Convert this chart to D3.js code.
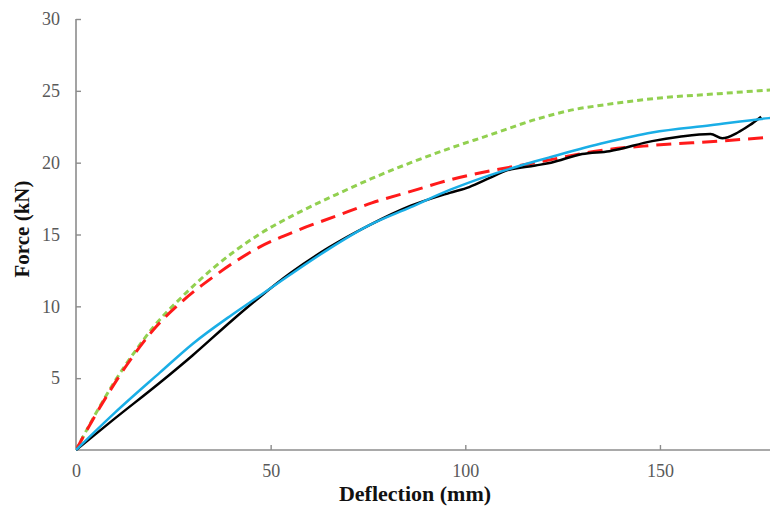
<!DOCTYPE html>
<html lang="en">
<head>
    <meta charset="UTF-8">
    <title>Force vs Deflection</title>
    <script src="https://d3js.org/d3.v7.min.js"></script>
    <style>
        body {
            margin: 0;
            background: #fff;
            font-family: "Liberation Serif", "Times New Roman", serif;
        }
        .tick text {
            font-size: 18px;
            fill: #595959;
        }
        .axis-title {
            font-weight: bold;
            fill: #111;
        }
    </style>
</head>
<body>
    <div id="chart"></div>

    <script>
        // deflection (mm) / force (kN) pairs
        const greenX = [0, 5, 10, 15, 20, 27, 35, 47, 57, 67, 76, 86, 96, 106, 118, 128, 135, 150, 165, 180];
        const greenY = [0, 2.5, 4.8, 6.8, 8.6, 10.6, 12.6, 15.0, 16.5, 17.8, 18.9, 20.0, 21.0, 21.9, 23.0, 23.7, 24.0, 24.5, 24.8, 25.1];

        const redX = [0, 6, 13, 20, 27.5, 35, 47, 57, 67, 76, 86, 96, 104, 118, 136, 148, 165, 180];
        const redY = [0, 2.9, 5.9, 8.4, 10.4, 12.0, 14.1, 15.3, 16.3, 17.2, 18.0, 18.8, 19.3, 20.0, 20.9, 21.2, 21.5, 21.8];

        const blueX = [0, 10, 21.6, 30, 40, 47, 55, 65, 75, 86, 96, 106, 118, 122, 136, 148, 163, 178, 180];
        const blueY = [0, 2.6, 5.4, 7.4, 9.4, 10.7, 12.2, 14.0, 15.6, 16.9, 18.1, 19.1, 20.1, 20.4, 21.4, 22.1, 22.6, 23.1, 23.15];

        const blackX = [0, 10, 21.6, 30, 40, 47, 55, 65, 75, 86, 96, 101, 106, 110, 118, 122, 130, 137, 148, 155, 163, 166, 170, 173, 176];
        const blackY = [0, 2.2, 4.7, 6.6, 9.0, 10.6, 12.3, 14.1, 15.6, 17.0, 17.9, 18.3, 18.9, 19.4, 19.8, 20.0, 20.6, 20.8, 21.5, 21.8, 22.0, 21.7, 22.1, 22.6, 23.2];

        const xTicks = [0, 50, 100, 150];
        const yTicks = [5, 10, 15, 20, 25, 30];

        const width = 770;
        const height = 514;
        const margin = { left: 76, top: 19, bottom: 64 };

        const svg = d3.select("#chart")
            .append("svg")
            .attr("width", width)
            .attr("height", height);

        const x = d3.scaleLinear()
            .domain([0, 180])
            .range([margin.left, margin.left + 180 * 3.893]);

        const y = d3.scaleLinear()
            .domain([0, 30])
            .range([height - margin.bottom, margin.top]);

        // x axis, ticks pointing up into the plot
        const xAxis = svg.append("g")
            .attr("transform", `translate(0, ${y(0)})`)
            .call(d3.axisBottom(x).tickValues(xTicks).tickSizeInner(-5).tickSizeOuter(0).tickPadding(14));

        // y axis, ticks pointing right
        const yAxis = svg.append("g")
            .attr("transform", `translate(${x(0)}, 0)`)
            .call(d3.axisLeft(y).tickValues(yTicks).tickSizeInner(-5).tickSizeOuter(0).tickPadding(16));

        [xAxis, yAxis].forEach(a => {
            a.attr("font-family", null).attr("font-size", null);
            a.select(".domain").attr("stroke", "#8c8c8c").attr("stroke-width", 1.6);
            a.selectAll(".tick line").attr("stroke", "#8c8c8c").attr("stroke-width", 1.4);
        });
        xAxis.select(".domain").attr("d", `M${x(0)},0H${width}`);
        yAxis.select(".domain").attr("d", `M0,${y(0)}V${y(30)}`);

        const line = d3.line()
            .x(d => x(d[0]))
            .y(d => y(d[1]))
            .curve(d3.curveMonotoneX);

        const series = [
            { xs: greenX, ys: greenY, color: "#92d050", width: 3, dash: "6,4" },
            { xs: redX, ys: redY, color: "#ff1a1a", width: 3, dash: "15,8" },
            { xs: blackX, ys: blackY, color: "#000000", width: 2.5, dash: null },
            { xs: blueX, ys: blueY, color: "#1aaee6", width: 2.5, dash: null }
        ];

        svg.append("defs").append("clipPath")
            .attr("id", "plot-clip")
            .append("rect")
            .attr("x", x(0))
            .attr("y", 0)
            .attr("width", width - x(0))
            .attr("height", y(0) + 2);

        svg.append("g")
            .attr("clip-path", "url(#plot-clip)")
            .selectAll("path")
            .data(series)
            .enter()
            .append("path")
            .attr("d", s => line(s.xs.map((v, i) => [v, s.ys[i]])))
            .attr("fill", "none")
            .attr("stroke", s => s.color)
            .attr("stroke-width", s => s.width)
            .attr("stroke-dasharray", s => s.dash)
            .attr("stroke-linejoin", "round");

        svg.append("text")
            .attr("class", "axis-title")
            .attr("x", 415)
            .attr("y", 501)
            .attr("font-size", 22)
            .attr("text-anchor", "middle")
            .text("Deflection (mm)");

        svg.append("text")
            .attr("class", "axis-title")
            .attr("transform", `translate(29, 229) rotate(-90)`)
            .attr("font-size", 21)
            .attr("text-anchor", "middle")
            .text("Force (kN)");
    </script>
</body>
</html>
